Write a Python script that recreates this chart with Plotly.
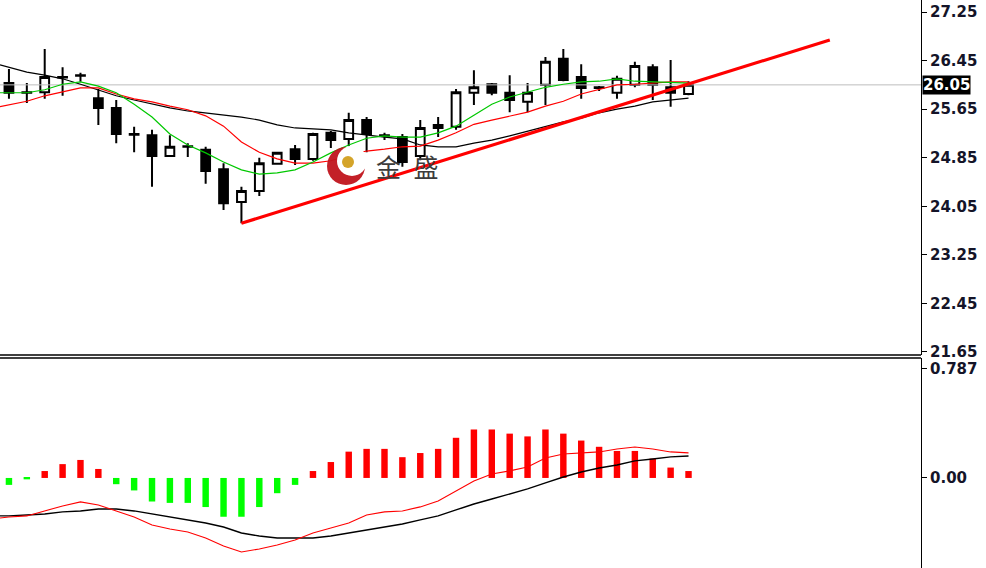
import plotly.graph_objects as go

# ---------------- data ----------------
idx = list(range(39))
opens  = [26.08,25.93,25.93,26.18,26.21,25.83,25.67,25.24,25.22,24.88,25.04,24.98,24.66,24.12,24.30,24.75,24.99,24.83,25.26,25.16,
          25.47,25.22,25.19,24.88,25.34,25.36,25.92,26.06,25.92,25.77,26.05,26.48,26.18,26.01,25.92,26.05,26.34,26.01,25.90]
highs  = [26.31,26.08,26.64,26.34,26.25,25.98,25.80,25.36,25.31,25.22,25.09,25.03,24.76,24.37,24.85,24.93,25.06,25.26,25.29,25.59,
          25.52,25.26,25.24,25.47,25.52,25.98,26.29,26.08,26.21,26.08,26.51,26.64,26.39,26.03,26.20,26.43,26.39,26.46,26.11]
lows   = [25.82,25.75,25.82,25.87,26.10,25.39,25.09,24.94,24.37,24.86,24.86,24.42,23.99,23.77,24.22,24.75,24.73,24.80,25.01,25.04,
          24.94,25.14,24.70,24.81,25.19,25.31,25.72,25.88,25.60,25.60,25.72,26.11,25.82,25.95,25.82,26.01,25.80,25.69,25.88]
closes = [25.92,25.92,26.18,26.17,26.20,25.67,25.24,25.23,24.88,25.03,25.03,24.63,24.10,24.30,24.76,24.93,24.83,25.24,25.14,25.47,
          25.24,25.21,24.78,25.34,25.39,25.93,26.01,25.92,25.80,25.92,26.43,26.13,26.00,26.00,26.15,26.36,26.05,25.92,26.05]

ma_x = [-0.5] + idx
ma_fast = [25.92,25.92,25.92,25.97,26.06,26.10,26.03,25.92,25.73,25.52,25.24,25.06,24.93,24.78,24.65,24.58,24.60,24.65,24.78,24.93,
           25.06,25.17,25.21,25.19,25.19,25.26,25.37,25.55,25.73,25.85,25.93,26.01,26.06,26.10,26.11,26.15,26.11,26.10,26.10,26.08]
ma_mid  = [25.69,25.72,25.78,25.87,25.93,26.00,26.00,25.90,25.82,25.77,25.70,25.64,25.54,25.37,25.11,24.94,24.83,24.76,24.76,24.80,
           24.89,24.96,24.99,25.03,25.04,25.14,25.26,25.40,25.47,25.54,25.60,25.70,25.78,25.90,25.98,26.05,26.06,26.08,26.10,26.10]
ma_slow = [26.38,26.34,26.26,26.21,26.15,26.06,25.97,25.87,25.80,25.73,25.67,25.62,25.59,25.55,25.52,25.47,25.39,25.34,25.32,25.31,
           25.26,25.22,25.19,25.16,25.06,25.03,25.03,25.09,25.14,25.21,25.29,25.36,25.44,25.50,25.59,25.65,25.70,25.77,25.80,25.83]

trend_x = [13, 45.9]
trend_y = [23.77, 26.79]
last_price = 26.05

price_ticks = [27.25, 26.45, 25.65, 24.85, 24.05, 23.25, 22.45, 21.65]
price_tick_text = ["27.25", "26.45", "25.65", "24.85", "24.05", "23.25", "22.45", "21.65"]
macd_ticks = [0.787, 0.0]
macd_tick_text = ["0.787", "0.00"]

hist = [-0.05,-0.01,0.05,0.10,0.13,0.065,-0.045,-0.09,-0.17,-0.18,-0.18,-0.21,-0.28,-0.28,-0.21,-0.11,-0.05,0.05,0.115,0.19,
        0.21,0.21,0.15,0.18,0.21,0.29,0.35,0.35,0.32,0.30,0.35,0.32,0.27,0.225,0.195,0.195,0.14,0.075,0.05]
macd_line = [-0.289,-0.282,-0.274,-0.238,-0.202,-0.173,-0.195,-0.238,-0.282,-0.339,-0.368,-0.390,-0.433,-0.491,-0.534,-0.513,-0.484,
             -0.448,-0.397,-0.361,-0.325,-0.267,-0.245,-0.238,-0.209,-0.166,-0.094,-0.022,0.029,0.051,0.079,0.144,0.173,0.181,0.188,
             0.209,0.224,0.209,0.188,0.181]
signal_line = [-0.274,-0.274,-0.267,-0.260,-0.245,-0.238,-0.224,-0.224,-0.238,-0.260,-0.282,-0.303,-0.325,-0.354,-0.397,-0.419,-0.433,
               -0.433,-0.433,-0.419,-0.397,-0.375,-0.354,-0.332,-0.303,-0.274,-0.231,-0.188,-0.152,-0.116,-0.079,-0.036,0.007,0.043,
               0.072,0.094,0.123,0.137,0.152,0.159]

# ---------------- figure ----------------
W, H = 986, 568
PW = 921  # plot-area width in px
fig = go.Figure()

fig.add_trace(go.Scatter(x=[-0.5, 51], y=[last_price, last_price], mode="lines",
                         line=dict(color="#BDBDBD", width=1), xaxis="x", yaxis="y", hoverinfo="skip"))
fig.add_trace(go.Scatter(x=ma_x, y=ma_slow, mode="lines", line=dict(color="#000000", width=1.2),
                         xaxis="x", yaxis="y"))
fig.add_trace(go.Scatter(x=ma_x, y=ma_mid, mode="lines", line=dict(color="#FF0000", width=1.2),
                         xaxis="x", yaxis="y"))
fig.add_trace(go.Scatter(x=ma_x, y=ma_fast, mode="lines", line=dict(color="#00C800", width=1.2),
                         xaxis="x", yaxis="y"))
fig.add_trace(go.Candlestick(x=idx, open=opens, high=highs, low=lows, close=closes,
                             increasing=dict(fillcolor="#FFFFFF", line=dict(color="#000000", width=2)),
                             decreasing=dict(fillcolor="#000000", line=dict(color="#000000", width=2)),
                             xaxis="x", yaxis="y"))
fig.add_trace(go.Scatter(x=trend_x, y=trend_y, mode="lines", line=dict(color="#FF0000", width=3.2),
                         xaxis="x", yaxis="y"))

fig.add_trace(go.Bar(x=idx, y=hist, width=0.36,
                     marker=dict(color=["#FF0000" if v >= 0 else "#00FF00" for v in hist], line=dict(width=0)),
                     xaxis="x2", yaxis="y2"))
fig.add_trace(go.Scatter(x=ma_x, y=signal_line, mode="lines", line=dict(color="#000000", width=1.4),
                         xaxis="x2", yaxis="y2"))
fig.add_trace(go.Scatter(x=ma_x, y=macd_line, mode="lines", line=dict(color="#FF0000", width=1.1),
                         xaxis="x2", yaxis="y2"))

top_bottom_px = 355
bot_top_px = 358
font_axis = dict(family="DejaVu Sans", size=15, color="#141428", weight="bold")


def px(x):
    return x / PW


def py(y):
    return 1 - y / H


fig.update_layout(
    template="none",
    width=W, height=H, showlegend=False, autosize=False,
    paper_bgcolor="white", plot_bgcolor="white",
    margin=dict(l=0, r=W - PW, t=0, b=0, pad=0, autoexpand=False),
    xaxis=dict(domain=[0, 1], range=[-0.5, 51.0], visible=False, rangeslider=dict(visible=False),
               anchor="y", automargin=False),
    xaxis2=dict(domain=[0, 1], range=[-0.5, 51.0], visible=False, anchor="y2", matches="x", automargin=False),
    yaxis=dict(domain=[py(top_bottom_px), 1], range=[21.60, 27.448], side="right",
               tickvals=price_ticks, ticktext=price_tick_text, showgrid=False, zeroline=False,
               showline=True, linecolor="black", linewidth=1, ticks="outside", ticklen=5,
               tickcolor="black", tickfont=font_axis, anchor="x", automargin=False),
    yaxis2=dict(domain=[0, py(bot_top_px)], range=[-0.650, 0.866], side="right",
                tickvals=macd_ticks, ticktext=macd_tick_text, showgrid=False, zeroline=False,
                showline=True, linecolor="black", linewidth=1, ticks="outside", ticklen=5,
                tickcolor="black", tickfont=font_axis, anchor="x2", automargin=False),
    shapes=[
        dict(type="line", xref="paper", yref="paper", x0=0, x1=1,
             y0=py(top_bottom_px), y1=py(top_bottom_px), line=dict(color="black", width=1.5)),
        dict(type="line", xref="paper", yref="paper", x0=0, x1=1,
             y0=py(bot_top_px), y1=py(bot_top_px), line=dict(color="black", width=1.5)),
        # watermark logo
        dict(type="circle", xref="paper", yref="paper", x0=px(327), x1=px(365), y0=py(185), y1=py(147),
             fillcolor="#C0141C", line=dict(width=0), layer="above", opacity=0.95),
        dict(type="circle", xref="paper", yref="paper", x0=px(337), x1=px(367), y0=py(176), y1=py(146),
             fillcolor="white", line=dict(width=0), layer="above"),
        dict(type="circle", xref="paper", yref="paper", x0=px(342), x1=px(354), y0=py(168), y1=py(156),
             fillcolor="#D4A42A", line=dict(width=0), layer="above"),
    ],
    annotations=[
        dict(xref="paper", yref="y", x=1.0, y=last_price, xanchor="left", yanchor="middle",
             text="<b>26.05</b>", showarrow=False, bgcolor="black", xshift=1,
             font=dict(family="DejaVu Sans", size=15, color="white"), borderpad=0),
        dict(xref="paper", yref="paper", x=px(407), y=py(166), xanchor="center", yanchor="middle",
             text="金\u2002盛", showarrow=False,
             font=dict(family="Noto Sans CJK SC", size=25, color="#3c3c3c")),
    ],
)

fig.write_html("out.html", config={"displayModeBar": False, "responsive": False},
               post_script="document.body.style.margin='0';document.body.style.overflow='hidden';")
